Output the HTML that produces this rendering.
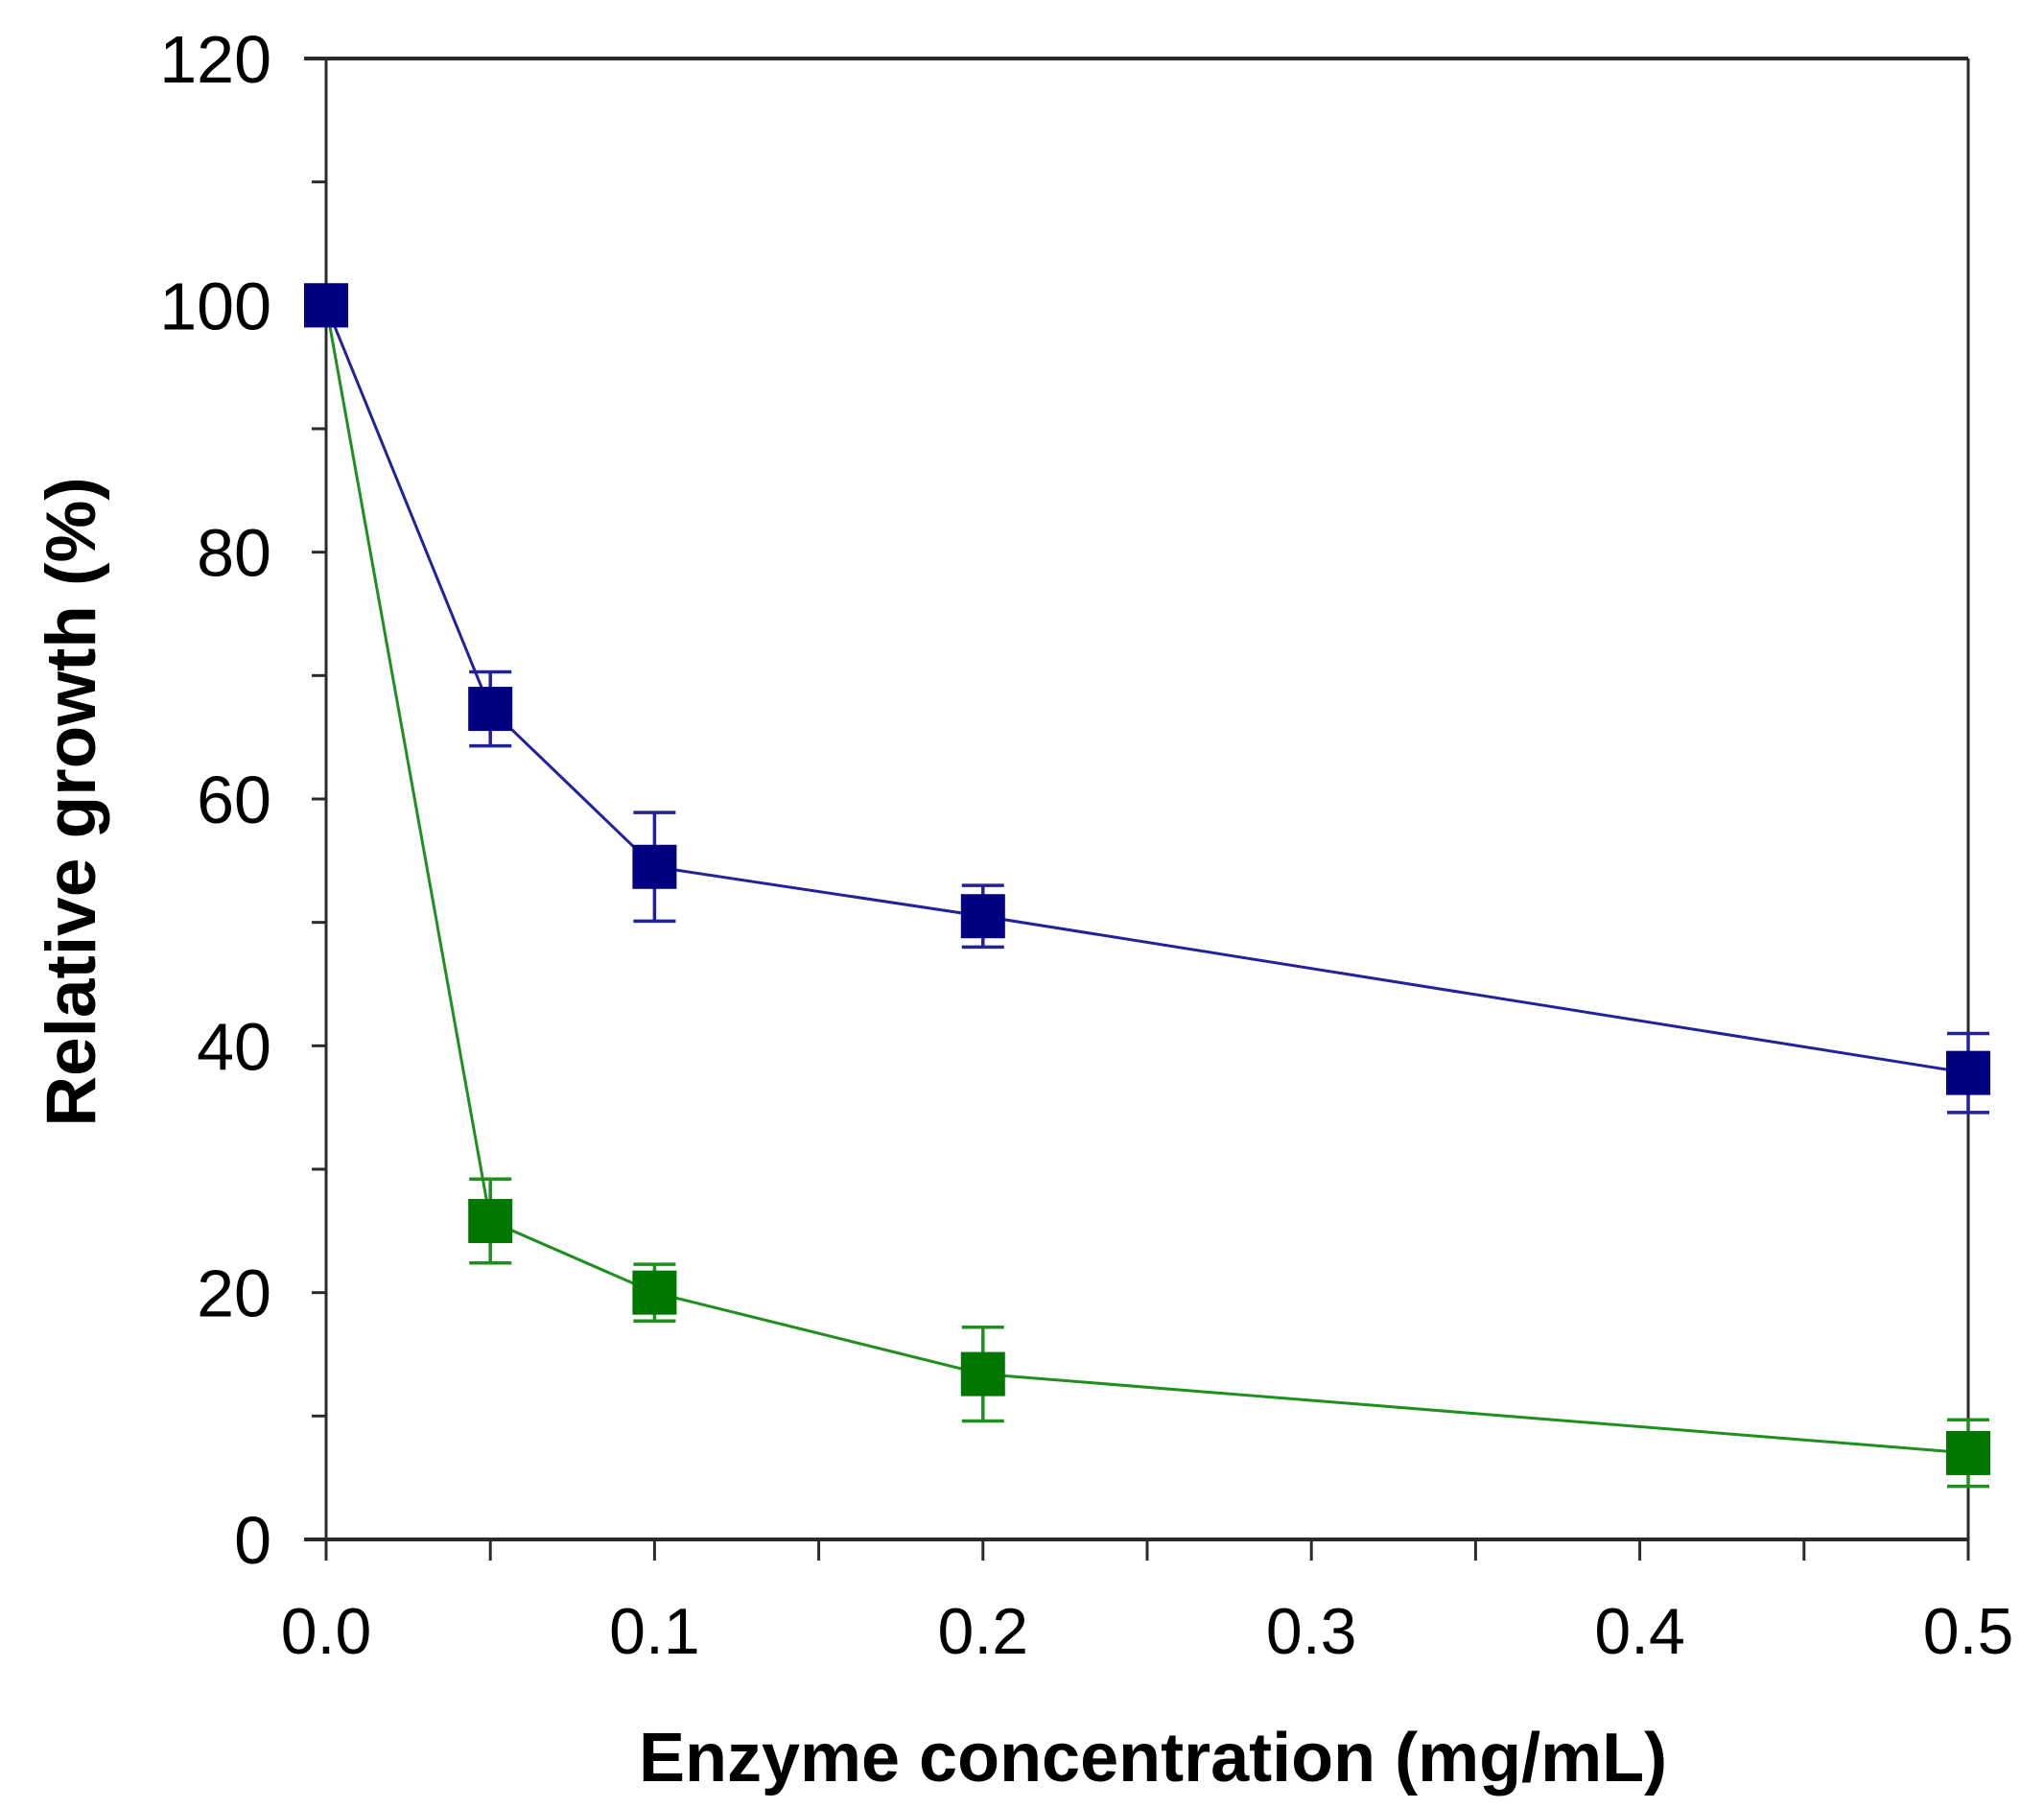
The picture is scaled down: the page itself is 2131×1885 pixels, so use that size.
<!DOCTYPE html>
<html><head><meta charset="utf-8"><style>
html,body{margin:0;padding:0;background:#fff;}
svg{display:block;}
text{font-family:"Liberation Sans",Arial,sans-serif;fill:#000;}
</style></head><body>
<svg id="chart" width="2131" height="1885" viewBox="0 0 2131 1885" xmlns="http://www.w3.org/2000/svg">
<g id="axes"></g>
<g id="series"></g>
<text x="0" y="0" transform="translate(99,836) rotate(-90)" text-anchor="middle" font-size="73" font-weight="bold">Relative growth (%)</text>
<text x="1202" y="1857" text-anchor="middle" font-size="72" font-weight="bold">Enzyme concentration (mg/mL)</text>
</svg>
<script>
const xCategories = [0, 0.05, 0.1, 0.2, 0.5];
const blueValues = [100, 67.3, 54.5, 50.5, 37.8];
const blueErrors = [0, 3.0, 4.4, 2.5, 3.2];
const greenValues = [100, 25.8, 20.0, 13.4, 7.0];
const greenErrors = [0, 3.4, 2.3, 3.8, 2.7];
const xTickLabels = ["0.0", "0.1", "0.2", "0.3", "0.4", "0.5"];
const yTickLabels = ["0", "20", "40", "60", "80", "100", "120"];

const NS = "http://www.w3.org/2000/svg";
const X0 = 340, X1 = 2052, Y0 = 1605, Y1 = 61;
function xs(v){ return X0 + (v - 0) / 0.5 * (X1 - X0); }
function ys(v){ return Y0 - v / 120 * (Y0 - Y1); }
function mk(tag, attrs, parent){
  const e = document.createElementNS(NS, tag);
  for (const k in attrs) e.setAttribute(k, attrs[k]);
  parent.appendChild(e);
  return e;
}
const axes = document.getElementById('axes');
const series = document.getElementById('series');
const axC = "#2a2a2a";

let l;
l = mk('line', {x1:317, y1:Y0, x2:X1, y2:Y0, stroke:axC, 'stroke-width':4}, axes);


l = mk('line', {x1:317, y1:Y1, x2:X1, y2:Y1, stroke:axC, 'stroke-width':4}, axes);


l = mk('line', {x1:X0, y1:Y1, x2:X0, y2:Y0+22, stroke:axC, 'stroke-width':3}, axes);


l = mk('line', {x1:X1, y1:Y1, x2:X1, y2:Y0+22, stroke:axC, 'stroke-width':3}, axes);



for (let v = 10; v < 120; v += 10) {
  const t = mk('line', {x1:X0-15, y1:ys(v), x2:X0, y2:ys(v), stroke:axC, 'stroke-width':3}, axes);
  
  
}
yTickLabels.forEach((s, i) => {
  const t = mk('text', {x:283, y:ys(i*20)+25, 'text-anchor':'end', 'font-size':70}, axes);
  t.textContent = s;
  
  
});
for (let i = 1; i < 10; i++) {
  const v = i * 0.05;
  const t = mk('line', {x1:xs(v), y1:Y0, x2:xs(v), y2:Y0+22, stroke:axC, 'stroke-width':3}, axes);
  
  
}
xTickLabels.forEach((s, i) => {
  const t = mk('text', {x:xs(i*0.1), y:1724, 'text-anchor':'middle', 'font-size':68}, axes);
  t.textContent = s;
  
  
});

function drawSeries(vals, errs, col, lineCol, name){
  const g = mk('g', {}, series);
  
  
  const pts = xCategories.map((x, i) => xs(x) + ',' + ys(vals[i])).join(' ');
  const pl = mk('polyline', {points:pts, fill:'none', stroke:lineCol, 'stroke-width':3}, g);
  
  
  xCategories.forEach((x, i) => {
    const cx = xs(x), cy = ys(vals[i]);
    if (errs[i] > 0) {
      const yt = ys(vals[i] + errs[i]), yb = ys(vals[i] - errs[i]);
      const e = mk('path', {d:`M${cx},${yt}V${yb}M${cx-22},${yt}H${cx+22}M${cx-22},${yb}H${cx+22}`, stroke:lineCol, 'stroke-width':3.5, fill:'none'}, g);
      
      
    }
    const r = mk('rect', {x:cx-23, y:cy-23, width:46, height:46, fill:col}, g);
    
    
  });
}
drawSeries(greenValues, greenErrors, '#007800', '#1f8f1f', 'green');
drawSeries(blueValues, blueErrors, '#000080', '#22229a', 'blue');
</script>
</body></html>
